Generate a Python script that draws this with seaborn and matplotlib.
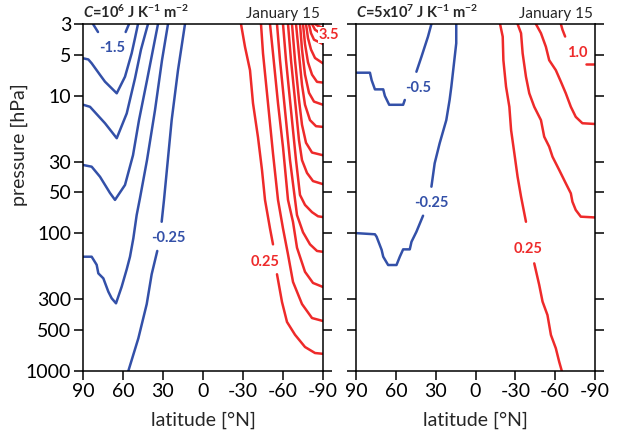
import numpy as np
import pandas as pd
import matplotlib
matplotlib.use("Agg")
import matplotlib.pyplot as plt
from matplotlib.ticker import NullLocator
import seaborn as sns

sns.set_style("ticks")
plt.rcParams['font.family'] = ['Lato', 'DejaVu Sans']
plt.rcParams['axes.unicode_minus'] = False
plt.rcParams['mathtext.fontset'] = 'custom'
plt.rcParams['mathtext.rm'] = 'Lato'
plt.rcParams['mathtext.bf'] = 'Lato:bold'
plt.rcParams['mathtext.it'] = 'Lato:italic'
try:
    plt.rcParams['mathtext.bfit'] = 'Lato:bold:italic'
    HAS_BFIT = True
except Exception:
    HAS_BFIT = False

# ---------------- axis values ----------------
lat_ticks = [90, 60, 30, 0, -30, -60, -90]
lat_tick_labels = ["90", "60", "30", "0", "-30", "-60", "-90"]
p_ticks = [3, 5, 10, 30, 50, 100, 300, 500, 1000]
p_tick_labels = ["3", "5", "10", "30", "50", "100", "300", "500", "1000"]

# ---------------- left panel (C=1e6), negative (blue) contours ----------------
L_m150_lat = [[82.5, 78.75], [58.0, 55.5]]
L_m150_p = [[3.0, 3.43], [3.43, 3.0]]
L_m125_lat = [[89.8, 86.0, 83.5, 77.25, 73.5, 64.7, 58.5, 53.5, 51.0, 48.75]]
L_m125_p = [[5.33, 5.43, 5.79, 7.03, 7.88, 9.57, 7.25, 4.9, 3.8, 3.0]]
L_m100_lat = [[89.8, 84.75, 73.5, 64.7, 57.2, 51.0, 46.5, 43.5, 41.25]]
L_m100_p = [[11.6, 12.0, 15.8, 20.3, 13.4, 7.45, 4.6, 3.6, 3.0]]
L_m075_lat = [[89.8, 83.5, 77.25, 69.75, 66.0, 58.5, 52.5, 48.0, 42.0, 37.5, 33.75]]
L_m075_p = [[31.8, 32.7, 38.7, 50.8, 57.0, 44.4, 27.0, 15.0, 7.7, 4.6, 3.0]]
L_m050_lat = [[89.8, 83.5, 79.75, 78.5, 74.75, 71.0, 68.5, 65.25, 61.0, 57.2, 54.75,
               52.25, 49.75, 47.25, 42.0, 36.0, 30.75, 26.25]]
L_m050_p = [[147.6, 147.6, 169, 195, 212, 265, 296, 322, 244, 182, 147.6,
             108.6, 73.5, 55.2, 29.3, 12.7, 5.5, 3.0]]
L_m025_lat = [[56.0, 48.5, 42.2, 38.5, 34.3], [31.0, 29.25, 23.5, 18.75, 13.5]]
L_m025_p = [[1000, 579, 326, 198, 134], [82.2, 57.0, 15.0, 6.5, 3.0]]

# ---------------- left panel, positive (red) contours ----------------
L_p025_lat = [[-28.5, -31.5, -35.25, -37.5, -41.25, -44.25, -46.5, -50.25, -52.5],
              [-55.5, -59.25, -63.0, -69.0, -76.5, -84.0, -90.0]]
L_p025_p = [[3.0, 4.4, 6.5, 11.3, 20.0, 34.6, 57, 92, 120],
            [198, 315, 440, 545, 669, 740, 750]]
L_p050_lat = [[-43.5, -45.0, -48.75, -52.5, -56.25, -60.0, -63.75, -67.5, -74.25, -81.75, -90.0]]
L_p050_p = [[3.0, 4.9, 11.3, 26.2, 57, 92, 142, 225, 326, 412, 433]]
L_p075_lat = [[-50.25, -52.5, -56.25, -60.0, -63.75, -67.5, -70.5, -76.5, -82.5, -90.0]]
L_p075_p = [[3.0, 4.9, 11.3, 23.6, 57, 82.5, 127, 190, 229, 245]]
L_p100_lat = [[-55.5, -57.75, -61.5, -65.25, -70.5, -75.0, -80.25, -85.5, -90.0]]
L_p100_p = [[3.0, 5.5, 12.7, 29.3, 73.5, 98, 120, 134, 136]]
L_p125_lat = [[-60.0, -62.25, -66.0, -69.75, -72.75, -76.5, -81.75, -86.25, -90.0]]
L_p125_p = [[3.0, 5.5, 12.7, 29.3, 52.5, 62, 70, 75, 76]]
L_p150_lat = [[-63.75, -66.0, -69.0, -72.0, -74.25, -78.0, -82.5, -90.0]]
L_p150_p = [[3.0, 5.5, 10.7, 21, 29.3, 36.3, 41.6, 43.8]]
L_p175_lat = [[-66.75, -69.0, -72.0, -74.25, -77.25, -81.75, -90.0]]
L_p175_p = [[3.0, 5.5, 10.7, 16.2, 21.9, 25.8, 27.0]]
L_p200_lat = [[-69.75, -72.0, -74.25, -76.5, -80.25, -84.75, -90.0]]
L_p200_p = [[3.0, 5.0, 8.3, 11.6, 15.0, 16.6, 16.8]]
L_p225_lat = [[-72.75, -74.25, -76.5, -79.5, -83.25, -90.0]]
L_p225_p = [[3.0, 4.6, 7.0, 9.5, 11.0, 11.6]]
L_p250_lat = [[-75.0, -76.5, -78.75, -81.75, -85.5, -90.0]]
L_p250_p = [[3.0, 4.2, 5.7, 7.0, 7.9, 8.0]]
L_p275_lat = [[-77.25, -78.75, -81.0, -84.0, -90.0]]
L_p275_p = [[3.0, 3.8, 4.6, 5.3, 5.8]]
L_p300_lat = [[-79.5, -81.0, -83.25, -90.0]]
L_p300_p = [[3.0, 3.5, 3.9, 4.2]]
L_p325_lat = [[-81.75, -84.0, -90.0]]
L_p325_p = [[3.0, 3.3, 3.6]]
L_p350_lat = [[-84.0, -86.25, -90.0]]
L_p350_p = [[3.0, 3.1, 3.2]]

# ---------------- right panel (C=5e7) ----------------
R_m050_lat = [[89.5, 79.5, 78.2, 75.75, 69.5, 68.25, 65.0, 54.5, 53.25],
              [44.5, 40.7, 35.8, 33.2]]
R_m050_p = [[6.78, 6.78, 7.7, 8.96, 8.96, 10.0, 11.6, 11.6, 10.7],
            [6.67, 5.19, 3.71, 3.0]]
R_m025_lat = [[14.5, 14.5, 18.2, 19.5, 22.0, 27.0, 30.75, 33.2],
              [39.5, 44.5, 48.2, 49.5, 54.5, 57.0, 59.5, 65.8, 69.5, 70.7, 74.5, 75.75, 89.5]]
R_m025_p = [[3.0, 4.14, 8.57, 10.7, 15.0, 22.1, 30.9, 45.7],
            [74.3, 97.2, 114.9, 130.5, 130.5, 147.6, 169.6, 169.6, 147.6, 131.6, 105.6, 101.4, 99.5]]
R_p025_lat = [[-18.5, -20.5, -21.0, -23.0, -25.5, -26.8, -29.25, -31.7, -34.3, -38.0],
              [-44.25, -48.0, -50.5, -54.2, -56.8, -60.5, -63.0, -65.0]]
R_p025_p = [[3.0, 3.71, 5.5, 8.57, 12.0, 17.7, 26.1, 38.7, 54.0, 82.2],
            [165, 237, 313, 392, 547, 684, 855, 1000]]
R_p050_lat = [[-31.7, -34.3, -35.5, -38.0, -40.5, -44.25, -49.3, -51.75, -55.5, -58.0,
               -63.0, -68.0, -71.8, -73.0, -75.5, -79.3, -90.0]]
R_p050_p = [[3.0, 3.5, 4.9, 7.25, 9.57, 12.0, 15.0, 19.8, 23.4, 27.7,
             34.5, 43.2, 51.1, 58.8, 67.5, 75.5, 76.5]]
R_p075_lat = [[-45.5, -49.3, -53.0, -55.5, -60.5, -64.3, -68.0, -71.8, -75.5, -80.5, -90.0]]
R_p075_p = [[3.0, 3.5, 4.39, 5.5, 6.5, 7.88, 9.57, 12.0, 14.2, 15.8, 16.0]]
R_p100_lat = [[-64.3, -65.5, -67.5], [-83.0, -90.0]]
R_p100_p = [[3.0, 3.3, 3.7], [5.9, 5.9]]

# contour labels: text, lat, pressure
L_label_text = ["-1.5", "-0.25", "0.25", "3.5"]
L_label_lat = [68.25, 26.25, -46.5, -94.5]
L_label_p = [4.5, 108, 161, 3.6]
L_label_col = ["blue", "blue", "red", "red"]
R_label_text = ["-0.5", "-0.25", "0.25", "1.0"]
R_label_lat = [43.3, 33.2, -39.25, -76.7]
R_label_p = [8.8, 60.3, 129.7, 4.9]
R_label_col = ["blue", "blue", "red", "red"]

BLUE = "#3350a8"
RED = "#ee2a2a"
COLS = {"blue": BLUE, "red": RED}


def draw_contour(ax, lat_pieces, p_pieces, color):
    rows = []
    for k, (la, pa) in enumerate(zip(lat_pieces, p_pieces)):
        for a, b in zip(la, pa):
            rows.append((k, a, b))
    df = pd.DataFrame(rows, columns=["piece", "lat", "p"])
    sns.lineplot(data=df, x="lat", y="p", units="piece", estimator=None, sort=False,
                 color=color, linewidth=1.8, ax=ax, legend=False)


fig = plt.figure(figsize=(6.18, 4.34), dpi=100)
W, H = 618.0, 434.0
ax1 = fig.add_axes([83 / W, 1 - 371 / H, 240 / W, 347 / H])
ax2 = fig.add_axes([356 / W, 1 - 371 / H, 239 / W, 347 / H])

for ax in (ax1, ax2):
    ax.set_yscale("log")
    ax.set_xlim(90, -90)
    ax.set_ylim(1000, 3)

left_blue = [(L_m150_lat, L_m150_p), (L_m125_lat, L_m125_p), (L_m100_lat, L_m100_p),
             (L_m075_lat, L_m075_p), (L_m050_lat, L_m050_p), (L_m025_lat, L_m025_p)]
left_red = [(L_p025_lat, L_p025_p), (L_p050_lat, L_p050_p), (L_p075_lat, L_p075_p),
            (L_p100_lat, L_p100_p), (L_p125_lat, L_p125_p), (L_p150_lat, L_p150_p),
            (L_p175_lat, L_p175_p), (L_p200_lat, L_p200_p), (L_p225_lat, L_p225_p),
            (L_p250_lat, L_p250_p), (L_p275_lat, L_p275_p), (L_p300_lat, L_p300_p),
            (L_p325_lat, L_p325_p), (L_p350_lat, L_p350_p)]
right_blue = [(R_m050_lat, R_m050_p), (R_m025_lat, R_m025_p)]
right_red = [(R_p025_lat, R_p025_p), (R_p050_lat, R_p050_p), (R_p075_lat, R_p075_p),
             (R_p100_lat, R_p100_p)]

for la, pa in left_blue:
    draw_contour(ax1, la, pa, BLUE)
for la, pa in left_red:
    draw_contour(ax1, la, pa, RED)
for la, pa in right_blue:
    draw_contour(ax2, la, pa, BLUE)
for la, pa in right_red:
    draw_contour(ax2, la, pa, RED)

for ax, texts, lats, ps, cols in ((ax1, L_label_text, L_label_lat, L_label_p, L_label_col),
                                  (ax2, R_label_text, R_label_lat, R_label_p, R_label_col)):
    for t, la, pp, c in zip(texts, lats, ps, cols):
        ax.text(la, pp, t, color=COLS[c], fontsize=10.5, fontweight="bold",
                ha="center", va="center", zorder=6, clip_on=False,
                bbox=dict(boxstyle="square,pad=0.08", fc="white", ec="none"))

for ax in (ax1, ax2):
    ax.set_xticks(lat_ticks)
    ax.set_xticklabels(lat_tick_labels)
    ax.set_yticks(p_ticks)
    ax.set_yticklabels(p_tick_labels)
    ax.yaxis.set_minor_locator(NullLocator())
    ax.tick_params(axis="both", which="major", direction="out", length=6.5, width=1.1,
                   labelsize=14, right=True, pad=2, colors="black")
    for s in ax.spines.values():
        s.set_linewidth(1.1)
        s.set_color("black")
        s.set_visible(True)
    ax.set_xlabel("latitude [°N]", fontsize=14)
    ax.xaxis.set_label_coords(0.5, -0.118)
    ax.set_ylabel("")

ax1.set_ylabel("pressure [hPa]", fontsize=14)
ax1.yaxis.set_label_coords(-0.23, 0.651)
ax2.tick_params(axis="y", labelleft=False)

if HAS_BFIT:
    cmark = r"$\mathbfit{C}$"
else:
    cmark = r"$\mathit{C}$"
title1 = cmark + r"=10$^{\mathbf{6}}$ J K$^{\mathbf{-1}}$ m$^{\mathbf{-2}}$"
title2 = cmark + r"=5x10$^{\mathbf{7}}$ J K$^{\mathbf{-1}}$ m$^{\mathbf{-2}}$"
ax1.text(0.0, 1.017, title1, transform=ax1.transAxes, ha="left", va="baseline",
         fontsize=10.5, fontweight="bold")
ax1.text(0.9875, 1.017, "January 15", transform=ax1.transAxes, ha="right", va="baseline",
         fontsize=11)
ax2.text(0.0, 1.017, title2, transform=ax2.transAxes, ha="left", va="baseline",
         fontsize=10.5, fontweight="bold")
ax2.text(0.9916, 1.017, "January 15", transform=ax2.transAxes, ha="right", va="baseline",
         fontsize=11)

fig.savefig("out.png", dpi=100)
